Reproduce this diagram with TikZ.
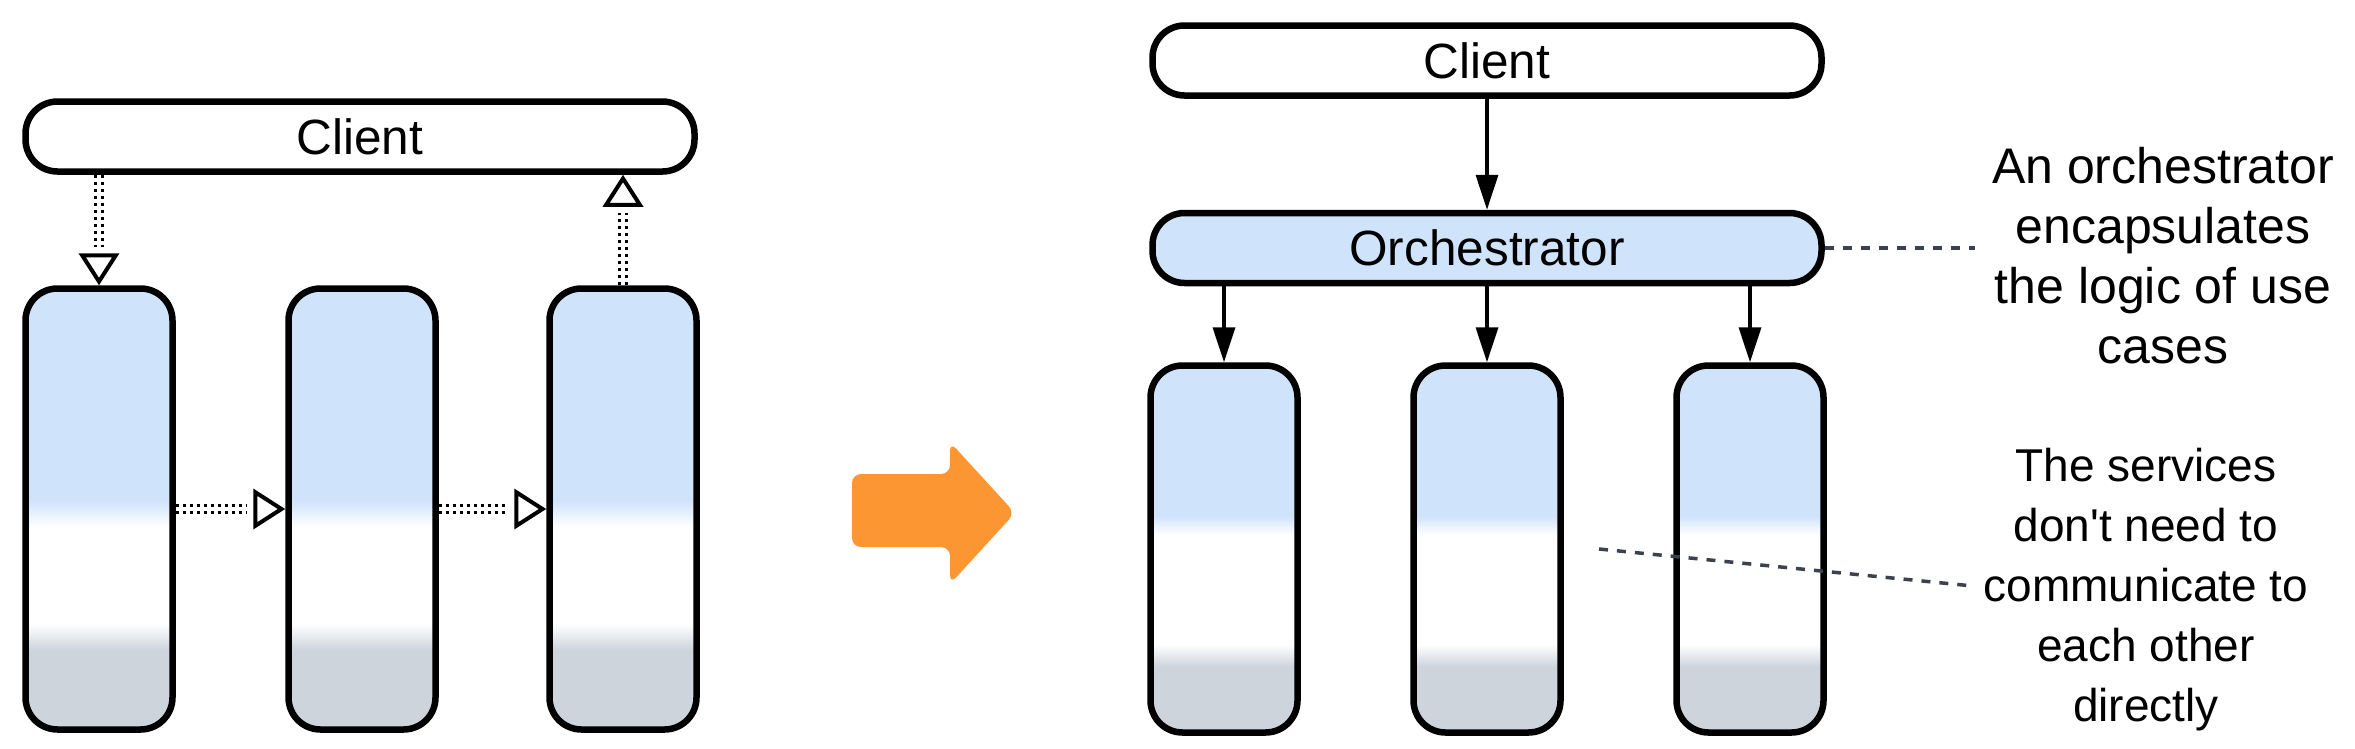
\documentclass[tikz,border=0pt]{standalone}
\usepackage{fontspec}
\newfontfamily\lsans{Liberation Sans}
\usetikzlibrary{arrows.meta}
\definecolor{boxblue}{HTML}{CFE3FB}
\definecolor{boxgray}{HTML}{CDD4DC}
\definecolor{orng}{HTML}{FB9633}
\definecolor{dashc}{HTML}{3B424D}
\pgfdeclareverticalshading{lsh}{100bp}{color(0bp)=(boxgray); color(34bp)=(boxgray); color(37bp)=(white); color(48bp)=(white); color(51bp)=(boxblue); color(100bp)=(boxblue)}
\pgfdeclareverticalshading{rsh}{100bp}{color(0bp)=(boxgray); color(34bp)=(boxgray); color(37bp)=(white); color(52bp)=(white); color(54.5bp)=(boxblue); color(100bp)=(boxblue)}
\begin{document}
\begin{tikzpicture}[x=1pt,y=-1pt,
  pill/.style={draw=black, line width=6.5pt, rounded corners=32pt, minimum width=669pt, minimum height=70pt, inner sep=0pt, fill=white, font=\lsans\fontsize{49.5}{58}\selectfont},
  svc/.style={draw=black, line width=6.5pt, rounded corners=32pt, minimum width=147pt, inner sep=0pt},
  lsvc/.style={svc, minimum height=441pt, shading=lsh},
  rsvc/.style={svc, minimum height=367pt, shading=rsh},
  dbl/.style={draw=black, line width=3pt, double=white, double distance=4pt, dash pattern=on 3pt off 4pt, shorten >=38pt},
  otip/.style={line width=4pt, dash pattern=on 0pt off 3000pt, -{Triangle[open, length=32pt, width=40pt]}},
  sarr/.style={line width=3.5pt, -{Triangle[length=35pt, width=22pt]}},
  note/.style={align=center, font=\lsans\fontsize{46}{60}\selectfont, inner sep=0pt},
  lead/.style={draw=dashc, line width=3.5pt, dash pattern=on 9pt off 9pt}
]
\useasboundingbox (0,0) rectangle (2355,748);
% left side
\node[pill] (lc) at (360,136.5) {Client};
\node[lsvc] (l1) at (99,509) {};
\node[lsvc] (l2) at (362,509) {};
\node[lsvc] (l3) at (623,509) {};
\draw[dbl] (lc.south -| l1) -- (l1.north);
\draw[otip] (lc.south -| l1) -- (l1.north);
\draw[dbl] (l3.north) -- (lc.south -| l3);
\draw[otip] (l3.north) -- (lc.south -| l3);
\draw[dbl] (l1.east) -- (l2.west);
\draw[otip] (l1.east) -- (l2.west);
\draw[dbl] (l2.east) -- (l3.west);
\draw[otip] (l2.east) -- (l3.west);
% big arrow
\fill[orng, rounded corners=9pt] (852,474) -- (950,474) -- (950,442) -- (1015,513) -- (950,584) -- (950,547) -- (852,547) -- cycle;
% right side
\node[pill] (rc) at (1487,60.5) {Client};
\node[pill, fill=boxblue] (orc) at (1487,248) {Orchestrator};
\node[rsvc] (r1) at (1224,549) {};
\node[rsvc] (r2) at (1487,549) {};
\node[rsvc] (r3) at (1750,549) {};
\draw[sarr] (rc) -- (orc);
\draw[sarr] (orc.south -| r1) -- (r1.north);
\draw[sarr] (orc.south -| r2) -- (r2.north);
\draw[sarr] (orc.south -| r3) -- (r3.north);
% notes
\node[note, font=\lsans\fontsize{50}{60}\selectfont] (n1) at (2163,256) {An orchestrator\\encapsulates\\the logic of use\\cases};
\node[note] (n2) at (2146,590) {The services\\don't need to\\communicate to\\each other\\directly};
\coordinate (e1) at (1975,248);
\coordinate (s2) at (1599,549);
\coordinate (e2) at (1973,586);
\draw[lead] (orc.east) -- (e1);
\draw[lead] (s2) -- (e2);
\end{tikzpicture}
\end{document}
